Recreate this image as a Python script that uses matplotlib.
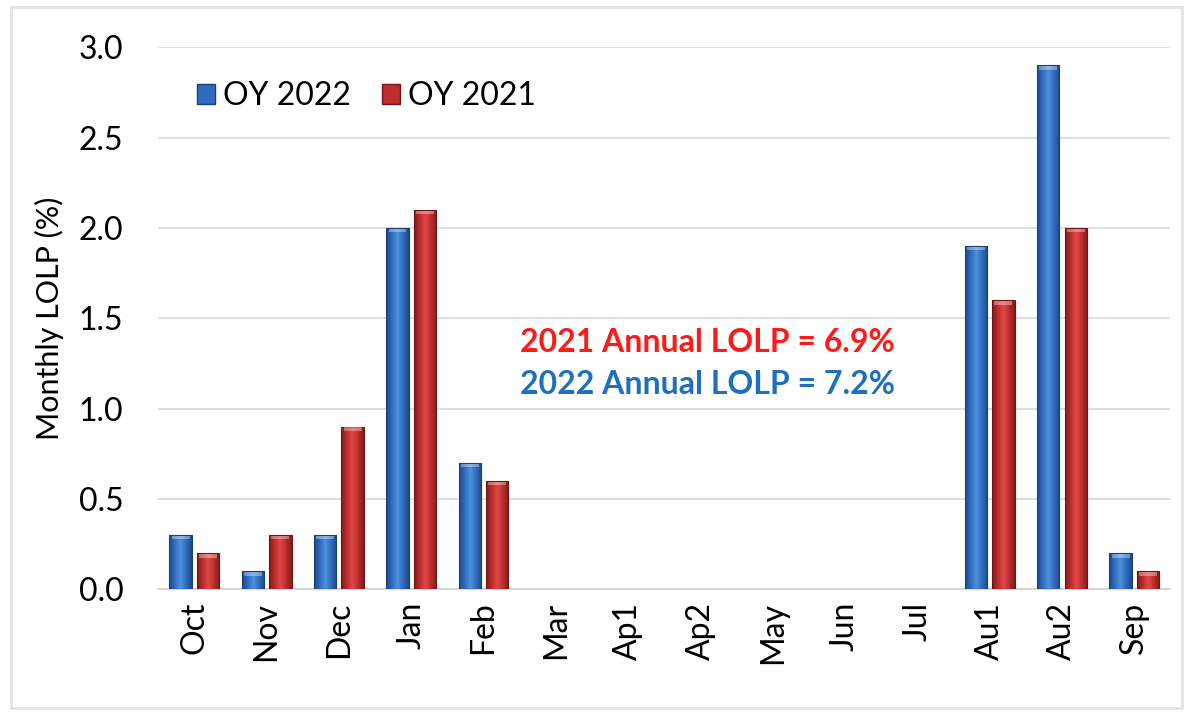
import numpy as np
import matplotlib.pyplot as plt
from matplotlib.colors import LinearSegmentedColormap
from matplotlib.patches import Rectangle

months = ['Oct', 'Nov', 'Dec', 'Jan', 'Feb', 'Mar', 'Ap1', 'Ap2',
          'May', 'Jun', 'Jul', 'Au1', 'Au2', 'Sep']
oy2022 = [0.3, 0.1, 0.3, 2.0, 0.7, 0, 0, 0, 0, 0, 0, 1.9, 2.9, 0.2]
oy2021 = [0.2, 0.3, 0.9, 2.1, 0.6, 0, 0, 0, 0, 0, 0, 1.6, 2.0, 0.1]
yticks = [0.0, 0.5, 1.0, 1.5, 2.0, 2.5, 3.0]

plt.rcParams['font.family'] = ['Lato', 'DejaVu Sans']

# cylinder-like shading across each bar
blue_cm = LinearSegmentedColormap.from_list(
    'bl', ['#1d4a8a', '#2f6cc0', '#4f90dc', '#2f6cc0', '#1d4a8a'])
red_cm = LinearSegmentedColormap.from_list(
    'rd', ['#821c1c', '#be2d2d', '#e04848', '#be2d2d', '#821c1c'])
grad = np.linspace(0, 1, 64).reshape(1, -1)

fig = plt.figure(figsize=(11.98, 7.15), dpi=100)
ax = fig.add_axes([0.132, 0.176, 0.845, 0.758])

x = np.arange(len(months))
w = 0.31
off = 0.19


def shaded_bars(xs, vals, cmap, edge):
    bars = ax.bar(xs, vals, w, color='none', edgecolor='none', zorder=3)
    for b, v in zip(bars, vals):
        if v <= 0:
            continue
        x0 = b.get_x()
        im = ax.imshow(grad, cmap=cmap, aspect='auto', zorder=3,
                       extent=[x0, x0 + w, 0, v], interpolation='bicubic')
        im.set_clip_path(b)
        ax.add_patch(Rectangle((x0, 0), w, v, fill=False, ec=edge,
                               lw=0.8, zorder=4))
        # light cap at the top of the bar
        ax.add_patch(Rectangle((x0 + w * 0.1, v - 0.025), w * 0.8, 0.02,
                               color='white', alpha=0.35, lw=0, zorder=4))
    return bars


b1 = shaded_bars(x - off, oy2022, blue_cm, '#1a3f75')
b2 = shaded_bars(x + off, oy2021, red_cm, '#6e1616')

ax.set_xlim(-0.5, len(months) - 0.5)
ax.set_ylim(0, 3.0)
ax.set_yticks(yticks)
ax.set_yticklabels([f'{t:.1f}' for t in yticks], fontsize=23)
ax.set_xticks(x)
ax.set_xticklabels(months, rotation=90, fontsize=23)
ax.tick_params(length=0)
ax.tick_params(axis='x', pad=9)
ax.tick_params(axis='y', pad=25)
ax.grid(axis='y', color='#d9d9d9', lw=1.2, zorder=0)
ax.set_axisbelow(True)
for s in ['top', 'right', 'left']:
    ax.spines[s].set_visible(False)
ax.spines['bottom'].set_color('#d0d0d0')
ax.spines['bottom'].set_linewidth(1.2)
ax.set_ylabel('Monthly LOLP (%)', fontsize=22)
ax.yaxis.set_label_coords(-0.093, 0.5)

h1 = Rectangle((0, 0), 1, 1, fc='#2f6cc0', ec='#1a3f75')
h2 = Rectangle((0, 0), 1, 1, fc='#be2d2d', ec='#6e1616')
ax.legend([h1, h2], ['OY 2022', 'OY 2021'], loc='upper left',
          bbox_to_anchor=(0.01, 0.99), ncol=2, frameon=False,
          fontsize=23, handlelength=0.55, handleheight=0.55,
          handletextpad=0.25, columnspacing=1.0)

ax.text(0.357, 0.455, '2021 Annual LOLP = 6.9%', transform=ax.transAxes,
        color='#ff1a1a', fontsize=23, fontweight='bold', va='center')
ax.text(0.357, 0.378, '2022 Annual LOLP = 7.2%', transform=ax.transAxes,
        color='#1f6fc0', fontsize=23, fontweight='bold', va='center')

fig.patches.append(Rectangle((0.009, 0.01), 0.978, 0.98,
                             transform=fig.transFigure, fill=False,
                             ec='#e3e3e3', lw=2))

fig.savefig('out.png', dpi=100)
